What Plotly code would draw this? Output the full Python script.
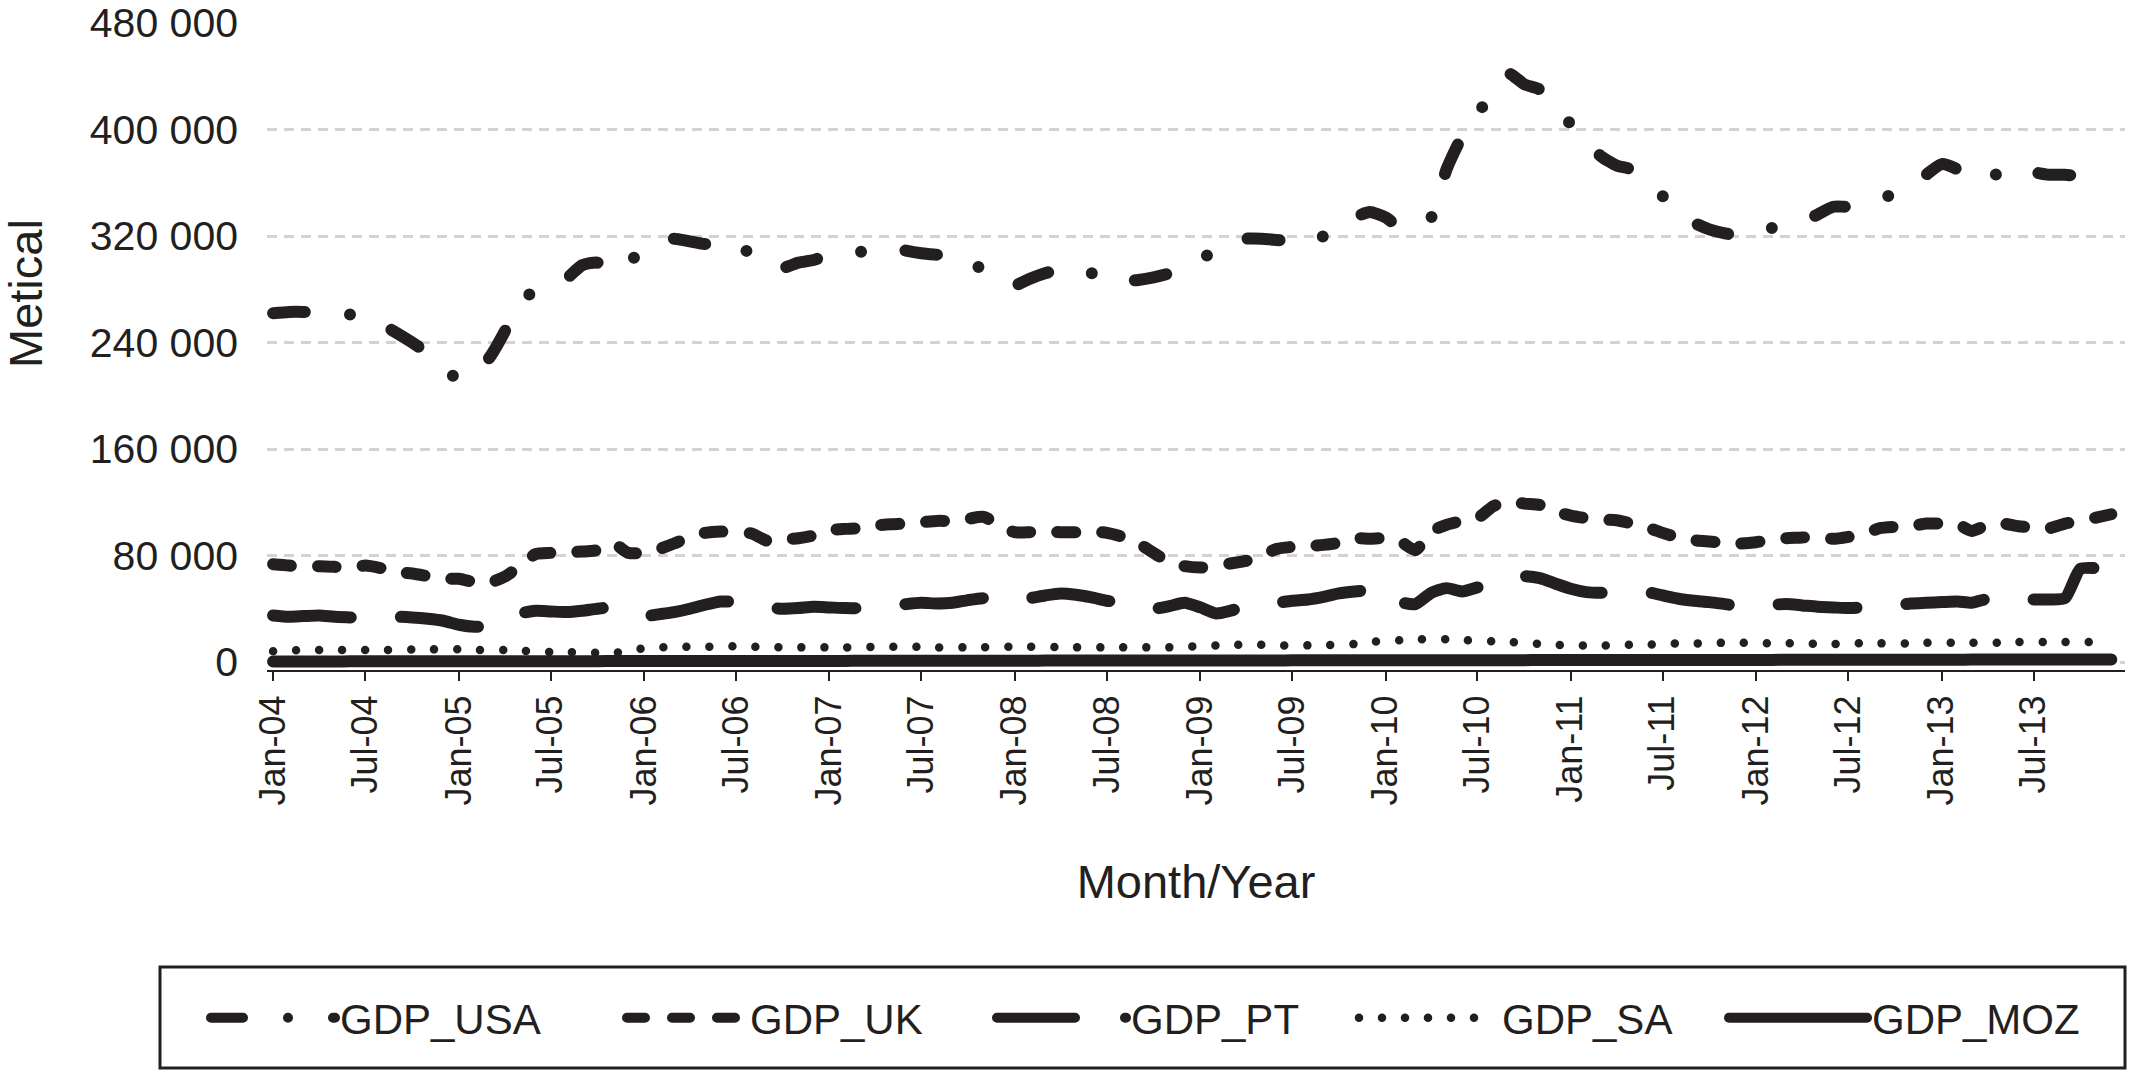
import plotly.graph_objects as go
import pandas as pd

# ---------------- data ----------------
months = pd.date_range("2004-01-01", periods=120, freq="MS")

tick_dates = ["2004-01-01", "2004-07-01", "2005-01-01", "2005-07-01", "2006-01-01", "2006-07-01",
              "2007-01-01", "2007-07-01", "2008-01-01", "2008-07-01", "2009-01-01", "2009-07-01",
              "2010-01-01", "2010-07-01", "2011-01-01", "2011-07-01", "2012-01-01", "2012-07-01",
              "2013-01-01", "2013-07-01"]
tick_labels = ["Jan-04", "Jul-04", "Jan-05", "Jul-05", "Jan-06", "Jul-06", "Jan-07", "Jul-07",
               "Jan-08", "Jul-08", "Jan-09", "Jul-09", "Jan-10", "Jul-10", "Jan-11", "Jul-11",
               "Jan-12", "Jul-12", "Jan-13", "Jul-13"]

y_tick_vals = [0, 80000, 160000, 240000, 320000, 400000, 480000]
y_tick_labels = ["0", "80 000", "160 000", "240 000", "320 000", "400 000", "480 000"]

gdp_usa = [262000, 263000, 263000, 262000, 261000, 261000, 260000, 254000, 247000, 240000, 232000, 222000,
           212000, 218000, 228000, 248000, 272000, 278000, 282000, 288000, 298000, 300000, 292000, 300000,
           310000, 316000, 318000, 316000, 314000, 315000, 316000, 305000, 298000, 296000, 300000, 302000,
           306000, 307000, 308000, 310000, 312000, 309000, 307000, 306000, 307000, 302000, 294000, 287000,
           283000, 288000, 292000, 295000, 296000, 292000, 286000, 286000, 287000, 289000, 292000, 297000,
           302000, 310000, 316000, 318000, 318000, 317000, 316000, 314000, 320000, 328000, 334000, 338000,
           334000, 326000, 330000, 334000, 370000, 395000, 411000, 430000, 442000, 434000, 430000, 418000,
           404000, 392000, 380000, 373000, 370000, 360000, 350000, 340000, 330000, 325000, 322000, 320000,
           322000, 326000, 328000, 331000, 336000, 342000, 342000, 344000, 348000, 352000, 358000, 366000,
           374000, 370000, 362000, 364000, 368000, 372000, 368000, 366000, 366000, 365000, 365000, 366000]

gdp_uk = [73500, 72500, 71000, 72000, 71500, 70500, 72500, 70500, 67500, 66500, 64500, 62500,
          62500, 60000, 59500, 64000, 72000, 81000, 82000, 82500, 83000, 84000, 89000, 82000,
          82000, 85000, 89000, 94000, 97000, 98000, 97500, 96500, 91000, 92000, 93000, 95000,
          99000, 100000, 100500, 102500, 103500, 104000, 105000, 106000, 106000, 107500, 109000, 103000,
          97500, 97500, 98000, 97500, 97500, 98000, 97000, 94000, 89000, 82000, 75000, 72000,
          71000, 72000, 74000, 76000, 80000, 85000, 86500, 87000, 88000, 89500, 93000, 92500,
          93000, 90000, 84000, 98000, 103000, 106000, 108000, 117000, 121000, 119000, 118000, 113000,
          110000, 108000, 107000, 106500, 104000, 101000, 97000, 93500, 91500, 90500, 89500, 89000,
          90000, 92000, 93000, 93500, 94500, 92500, 94000, 96500, 100500, 101500, 102000, 104000,
          104000, 103500, 98500, 103000, 104000, 102000, 101000, 100500, 104000, 106000, 108500, 111000]

gdp_pt = [35000, 34000, 34500, 35000, 34000, 33500, 33000, 33000, 34000, 33500, 32500, 31000,
          28000, 26500, 27000, 33000, 36500, 38500, 38000, 37500, 38500, 40000, 41000, 37000,
          34500, 36000, 37500, 40000, 43000, 45500, 45000, 43500, 41000, 40000, 40500, 41500,
          41000, 40500, 40500, 41000, 42000, 43500, 44500, 44000, 44500, 46500, 48000, 47000,
          46500, 48000, 50000, 51500, 50500, 48500, 46000, 44500, 42000, 40000, 42000, 44500,
          41000, 36500, 38500, 42000, 43000, 44500, 46000, 47000, 49000, 51500, 53000, 54000,
          55000, 45000, 43500, 52000, 55500, 53000, 56000, 58500, 62000, 64500, 63000, 59000,
          55000, 52500, 52000, 52500, 53000, 52500, 50000, 47500, 46000, 45000, 43500, 42000,
          42000, 43000, 43500, 42500, 41500, 41000, 40500, 41000, 41000, 42500, 44000, 44500,
          45000, 45500, 44500, 47500, 48000, 47000, 47000, 47000, 48000, 70000, 70500, 70000]

gdp_sa = [8000, 8500, 9000, 9000, 9000, 9000, 9000, 9000, 9000, 9500, 9500, 9500,
          9500, 9000, 9000, 9000, 8500, 8000, 7500, 7500, 7000, 7000, 7000, 7500,
          10500, 11000, 11000, 11500, 11500, 11500, 12000, 11500, 11500, 11000, 11000, 11000,
          11000, 11000, 11000, 11500, 11500, 11500, 11500, 11000, 11000, 11000, 11000, 11500,
          11500, 11500, 11500, 11000, 11000, 11000, 11000, 11000, 11000, 11000, 11000, 11500,
          12000, 12500, 13000, 13000, 13000, 12500, 12500, 12500, 12500, 13000, 13500, 15000,
          16000, 16500, 17000, 17000, 17000, 16500, 16000, 15500, 15000, 14500, 13500, 13000,
          12500, 12500, 12500, 12500, 13000, 13000, 13500, 14000, 14000, 14000, 14500, 14500,
          14500, 14000, 14000, 14000, 13500, 13500, 14000, 14000, 14000, 14000, 14000, 14500,
          14500, 14500, 14500, 14500, 14500, 15000, 15000, 15000, 15000, 15000, 15000, 15000]

gdp_moz = [400, 400, 450, 450, 450, 500, 500, 500, 500, 550, 550, 550,
           550, 550, 600, 600, 600, 600, 650, 650, 650, 650, 700, 700,
           700, 700, 750, 750, 750, 750, 800, 800, 800, 800, 850, 850,
           850, 850, 900, 900, 900, 900, 950, 950, 950, 950, 1000, 1000,
           1000, 1000, 1050, 1050, 1050, 1050, 1100, 1100, 1100, 1100, 1150, 1150,
           1150, 1150, 1200, 1200, 1200, 1200, 1250, 1250, 1250, 1250, 1300, 1300,
           1300, 1300, 1350, 1350, 1350, 1350, 1400, 1400, 1400, 1400, 1450, 1450,
           1450, 1450, 1500, 1500, 1500, 1500, 1550, 1550, 1550, 1550, 1600, 1600,
           1600, 1600, 1650, 1650, 1650, 1650, 1700, 1700, 1700, 1700, 1750, 1750,
           1750, 1750, 1800, 1800, 1800, 1800, 1850, 1850, 1850, 1850, 1900, 1900]

series_names = ["GDP_USA", "GDP_UK", "GDP_PT", "GDP_SA", "GDP_MOZ"]

# ---------------- styling ----------------
W, H = 2129, 1071
INK = "#231f20"
FONT = "Arial, Liberation Sans, Helvetica, sans-serif"
ML, MR, MT, MB = 267, 4, 23, 401

styles = {
    "GDP_USA": dict(dash="32px,45px,0px,45px", width=12),
    "GDP_UK": dict(dash="18px,27px", width=12),
    "GDP_PT": dict(dash="78px,50px", width=12),
    "GDP_SA": dict(dash="0px,23px", width=8.5),
    "GDP_MOZ": dict(dash="solid", width=12),
}
# legend positions (px in the picture) and symbol lengths
legend_left_px = [206, 622, 992, 1354, 1724]
legend_itemwidth = [124, 118, 129, 138, 138]
legend_mid_px = 1018

values = [gdp_usa, gdp_uk, gdp_pt, gdp_sa, gdp_moz]

fig = go.Figure()
for i, (name, vals) in enumerate(zip(series_names, values)):
    st = styles[name]
    fig.add_trace(go.Scatter(
        x=months, y=vals, name=name, mode="lines",
        line=dict(color=INK, width=st["width"], dash=st["dash"], shape="spline", smoothing=0.6),
        legend="legend" if i == 0 else f"legend{i + 1}",
        hoverinfo="skip",
    ))

layout_legends = {}
for i in range(5):
    key = "legend" if i == 0 else f"legend{i + 1}"
    layout_legends[key] = dict(
        xref="container", yref="container",
        x=legend_left_px[i] / W, y=1 - legend_mid_px / H,
        xanchor="left", yanchor="middle",
        orientation="h", itemwidth=legend_itemwidth[i],
        font=dict(family=FONT, size=42, color=INK),
        bgcolor="rgba(0,0,0,0)", borderwidth=0,
        itemclick=False, itemdoubleclick=False,
    )

plot_w = W - ML - MR
plot_h = H - MT - MB
box_x0, box_x1, box_y0, box_y1 = 160, 2125, 967, 1068

fig.update_layout(
    template="none",
    width=W, height=H,
    margin=dict(l=ML, r=MR, t=MT, b=MB, pad=0),
    paper_bgcolor="white", plot_bgcolor="white",
    font=dict(family=FONT, color=INK),
    showlegend=True,
    **layout_legends,
    shapes=[dict(
        type="rect", xref="paper", yref="paper",
        x0=(box_x0 - ML) / plot_w, x1=(box_x1 - ML) / plot_w,
        y0=(H - MB - box_y1) / plot_h, y1=(H - MB - box_y0) / plot_h,
        line=dict(color=INK, width=3), fillcolor="rgba(0,0,0,0)", layer="above",
    )],
    annotations=[dict(
        text="Metical", textangle=-90, showarrow=False,
        xref="paper", yref="paper",
        x=(25 - ML) / plot_w, y=(H - MB - 294) / plot_h,
        xanchor="center", yanchor="middle",
        font=dict(family=FONT, size=47, color=INK),
    )],
)

fig.update_xaxes(
    range=["2003-12-20", "2013-12-28"],
    tickvals=tick_dates, ticktext=tick_labels, tickangle=-90,
    tickfont=dict(family=FONT, size=36, color=INK),
    ticks="outside", ticklen=9, tickwidth=2, tickcolor=INK,
    showline=True, linecolor=INK, linewidth=2,
    showgrid=False, zeroline=False, automargin=False,
    title=dict(text="Month/Year", font=dict(family=FONT, size=47, color=INK), standoff=61),
)
fig.update_yaxes(
    range=[-6000, 480000],
    tickvals=y_tick_vals, ticktext=y_tick_labels,
    tickfont=dict(family=FONT, size=41, color=INK),
    ticks="", ticklabelstandoff=28,
    showline=False, zeroline=False,
    showgrid=True, gridcolor="#d3d3d3", gridwidth=2.5, griddash="10px,7px",
    automargin=False,
)

post = """
document.body.style.margin = '0';
document.body.style.overflow = 'hidden';
var s = document.createElement('style');
s.textContent = '.scatterlayer path.js-line, .legendlines path {stroke-linecap: round !important; stroke-linejoin: round !important;}';
document.head.appendChild(s);
"""
fig.write_html("out.html", post_script=post, config={"displayModeBar": False})
